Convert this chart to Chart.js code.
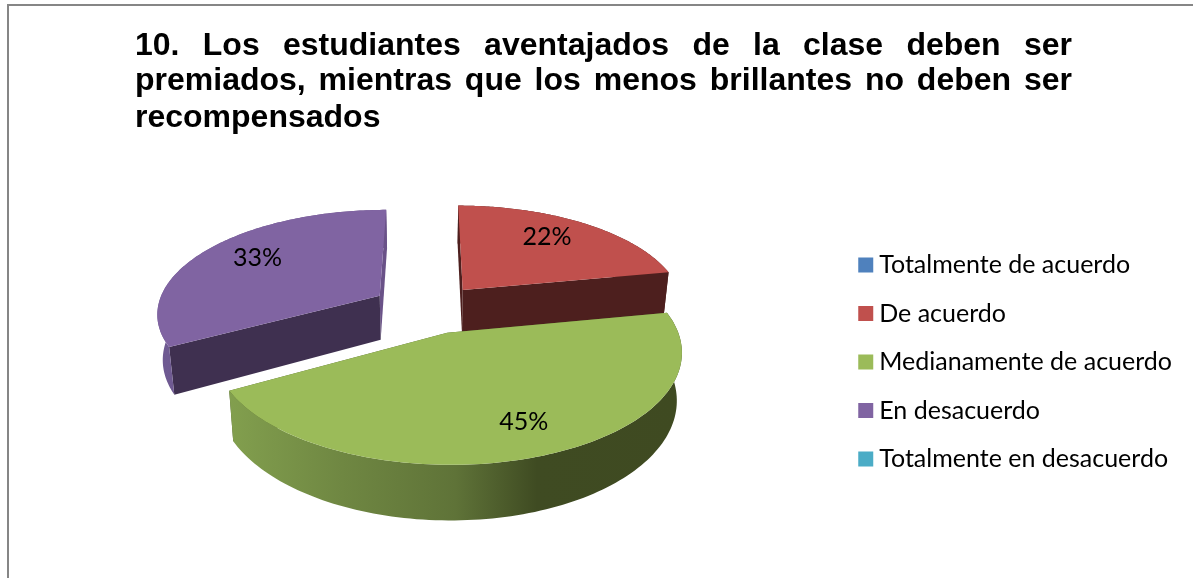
<!DOCTYPE html>
<html lang="es">
<head>
<meta charset="utf-8">
<title>Gráfico 10</title>
<script src="https://cdn.jsdelivr.net/npm/chart.js@4"></script>
<style>html,body{margin:0;padding:0;background:#fff;overflow:hidden}canvas{display:block}</style>
</head>
<body>
<canvas id="c" width="1193" height="578"></canvas>
<script>
const titleLines = [
  "10. Los estudiantes aventajados de la clase deben ser",
  "premiados, mientras que los menos brillantes no deben ser",
  "recompensados"
];
const categories = ["Totalmente de acuerdo","De acuerdo","Medianamente de acuerdo","En desacuerdo","Totalmente en desacuerdo"];
const values = [0, 22, 45, 33, 0];
const colors = ["#4f81bd","#c0504d","#9bbb59","#8064a2","#4bacc6"];
const cutShades = ["#27405e","#4d1f1e","#4d5d2c","#3f3050","#25566a"];
const endShades = ["#27405e","#4d1f1e","#4d5d2c","#6a5288","#25566a"];
const wallStops = [
  [[0,"#27405e"],[1,"#27405e"]],
  [[0,"#4d1f1e"],[1,"#4d1f1e"]],
  [[0,"#829f4e"],[0.25,"#6f8742"],[0.5,"#5f7338"],[0.68,"#3f4b22"],[1,"#3f4a21"]],
  [[0,"#6f5a92"],[1,"#6a5288"]],
  [[0,"#25566a"],[1,"#25566a"]]
];
const sliceOffsets = [53, 55, 53, 58, 53];
const labelFractions = [0, 0.68, 0.74, 0.76, 0];
const labelNudgeX = [0, 0, 9, 10, 0];
const labelNudgeY = [0, -6, 2, -2, 0];

const view = {k:0.0007, s:0.462, depth:45, taper:0.02, cyShift:-53};

function projector(el){
  const cx = el.x, cy = el.y + view.cyShift;
  return (u,v,z) => {
    const sc = 1/(1 - view.k*v);
    return [cx + u*sc*(1 - z*view.taper), cy + view.s*v*sc + z*view.depth*sc];
  };
}
const pie3d = {
  id:'pie3d',
  beforeDraw(chart){
    const c = chart.ctx;
    c.save();
    c.fillStyle='#fff'; c.fillRect(0,0,chart.width,chart.height);
    c.strokeStyle='#868686'; c.lineWidth=2;
    c.beginPath(); c.moveTo(8,chart.height); c.lineTo(8,5); c.lineTo(chart.width,5); c.stroke();
    c.fillStyle='#000';
    c.font='bold 32px "Liberation Sans"';
    c.textBaseline='alphabetic';
    const left=135, right=1072, baselines=[55,90,127];
    titleLines.forEach((line,i)=>{
      c.wordSpacing='0px';
      if(i<titleLines.length-1){
        const gaps=line.split(' ').length-1;
        c.wordSpacing=((right-left-c.measureText(line).width)/gaps)+'px';
      }
      c.fillText(line,left,baselines[i]);
    });
    c.wordSpacing='0px';
    c.restore();
  },
  beforeDatasetsDraw(chart){
    const c = chart.ctx, arcs = chart.getDatasetMeta(0).data;
    arcs.forEach((el,i)=>{
      if(!values[i]) return;
      const P = projector(el), R = el.outerRadius, d = el.options.offset;
      const mid=(el.startAngle+el.endAngle)/2;
      const ox=Math.cos(mid)*d, oy=Math.sin(mid)*d;
      const pt=(a,r,z)=>P(ox+Math.cos(a)*r, oy+Math.sin(a)*r, z);
      const steps=120, rim=z=>{const out=[];for(let j=0;j<=steps;j++){out.push(pt(el.startAngle+(el.endAngle-el.startAngle)*j/steps,R,z));}return out;};
      const poly=(pts,fill)=>{c.beginPath();pts.forEach((p,n)=>n?c.lineTo(p[0],p[1]):c.moveTo(p[0],p[1]));c.closePath();c.fillStyle=fill;c.fill();};
      c.save();
      poly([pt(el.endAngle,0,0),pt(el.endAngle,R,0),pt(el.endAngle,R,1),pt(el.endAngle,0,1)],endShades[i]);
      poly([pt(el.startAngle,0,0),pt(el.startAngle,R,0),pt(el.startAngle,R,1),pt(el.startAngle,0,1)],cutShades[i]);
      const top=rim(0), bot=rim(1);
      const xs=top.concat(bot).map(p=>p[0]);
      const g=c.createLinearGradient(Math.min(...xs),0,Math.max(...xs),0);
      wallStops[i].forEach(s=>g.addColorStop(s[0],s[1]));
      poly(top.concat(bot.slice().reverse()),g);
      poly([pt(0,0,0)].concat(top),el.options.backgroundColor);
      c.restore();
    });
    c.save();
    c.font='25px Lato'; c.fillStyle='#000'; c.textAlign='center'; c.textBaseline='middle';
    arcs.forEach((el,i)=>{
      if(!values[i]) return;
      const P=projector(el), mid=(el.startAngle+el.endAngle)/2, d=el.options.offset+el.outerRadius*labelFractions[i];
      const p=P(Math.cos(mid)*d,Math.sin(mid)*d,0);
      c.fillText(values[i]+'%',p[0]+labelNudgeX[i],p[1]+labelNudgeY[i]);
    });
    c.restore();
    return false;
  }
};
new Chart(document.getElementById('c'),{
  type:'pie',
  data:{labels:categories,datasets:[{data:values,backgroundColor:colors,borderWidth:0,offset:sliceOffsets,hoverOffset:0,radius:223}]},
  options:{
    responsive:false,animation:false,
    events:[],
    layout:{padding:{top:146,right:11,left:16,bottom:0}},
    plugins:{
      title:{display:false},
      tooltip:{enabled:false},
      legend:{
        position:'right',align:'center',
        labels:{usePointStyle:true,pointStyle:'rect',boxWidth:2,boxHeight:15,padding:23.5,color:'#000',font:{family:'Lato',size:25}}
      }
    }
  },
  plugins:[pie3d]
});
</script>
</body>
</html>
